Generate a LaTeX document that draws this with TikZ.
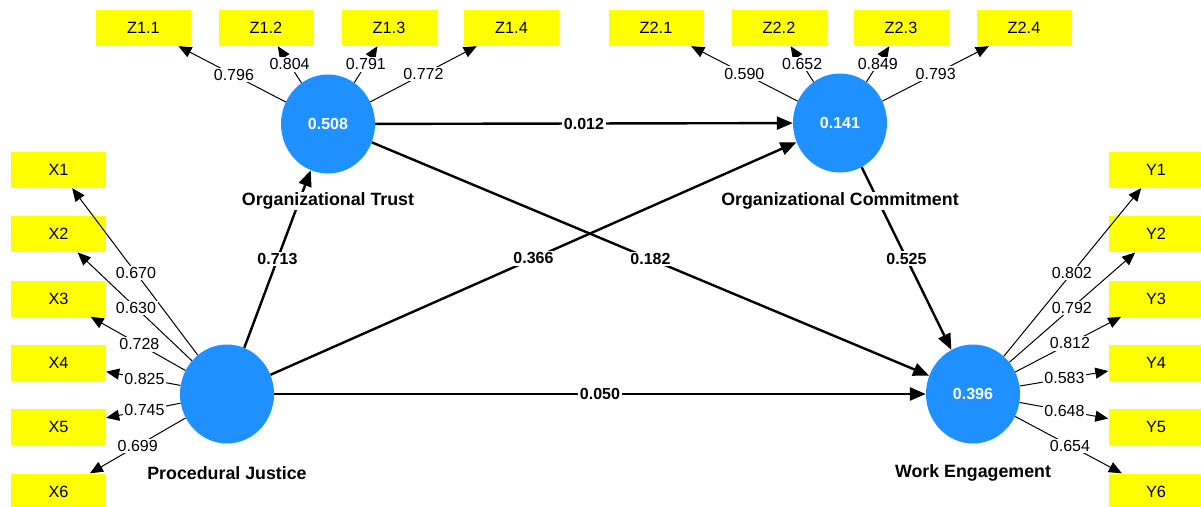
\documentclass[tikz,border=0pt]{standalone}
\usepackage{fontspec}
\setmainfont{Liberation Sans}
\usetikzlibrary{arrows.meta,shapes.geometric}
\definecolor{lvblue}{RGB}{30,144,255}
\definecolor{mvyellow}{RGB}{255,255,0}
\begin{document}
\begin{tikzpicture}[x=1pt,y=-1pt,
 lv/.style={ellipse,fill=lvblue,minimum width=94pt,minimum height=99pt,inner sep=0pt,text=white,font=\fontsize{16}{18}\selectfont\bfseries},
 mv/.style={rectangle,fill=mvyellow,minimum width=95pt,minimum height=36pt,inner sep=0pt,font=\fontsize{16.3}{18}\selectfont},
 lvname/.style={fill=white,inner sep=1pt,font=\fontsize{17.8}{20}\selectfont\bfseries},
 load/.style={line width=1pt,-{Triangle[length=13pt,width=11pt]}},
 pathc/.style={line width=2.4pt,-{Triangle[length=16pt,width=13pt]}},
 loadlbl/.style={fill=white,inner sep=1.5pt,font=\fontsize{16}{18}\selectfont},
 pathlbl/.style={fill=white,inner sep=1.5pt,font=\fontsize{16}{18}\selectfont\bfseries}]
\clip (0,0) rectangle (1201,506);
\fill[white] (0,0) rectangle (1201,506);

% latent variables
\node[lv] (OT) at (328,124) {0.508};
\node[lv] (OC) at (840,123) {0.141};
\node[lv] (PJ) at (227,394) {};
\node[lv] (WE) at (973,394) {0.396};

% indicators
\node[mv] (Z11) at (143.5,28) {Z1.1};
\node[mv] (Z12) at (266,28) {Z1.2};
\node[mv] (Z13) at (389,28) {Z1.3};
\node[mv] (Z14) at (511.5,28) {Z1.4};
\node[mv] (Z21) at (656,28) {Z2.1};
\node[mv] (Z22) at (779,28) {Z2.2};
\node[mv] (Z23) at (901,28) {Z2.3};
\node[mv] (Z24) at (1024,28) {Z2.4};
\node[mv] (X1) at (58.5,170) {X1};
\node[mv] (X2) at (58.5,234.3) {X2};
\node[mv] (X3) at (58.5,298.6) {X3};
\node[mv] (X4) at (58.5,362.9) {X4};
\node[mv] (X5) at (58.5,427.2) {X5};
\node[mv] (X6) at (58.5,491.5) {X6};
\node[mv] (Y1) at (1156,170) {Y1};
\node[mv] (Y2) at (1156,234.3) {Y2};
\node[mv] (Y3) at (1156,298.6) {Y3};
\node[mv] (Y4) at (1156,362.9) {Y4};
\node[mv] (Y5) at (1156,427.2) {Y5};
\node[mv] (Y6) at (1156,491.5) {Y6};

% loadings: Organizational Trust
\draw[load] (OT) -- (Z11);
\draw[load] (OT) -- (Z12);
\draw[load] (OT) -- (Z13);
\draw[load] (OT) -- (Z14);
\path (OT.center) -- (Z11.center) node[loadlbl,pos=0.51] {0.796};
\path (OT.center) -- (Z12.center) node[loadlbl,pos=0.62] {0.804};
\path (OT.center) -- (Z13.center) node[loadlbl,pos=0.62] {0.791};
\path (OT.center) -- (Z14.center) node[loadlbl,pos=0.52] {0.772};

% loadings: Organizational Commitment
\draw[load] (OC) -- (Z21);
\draw[load] (OC) -- (Z22);
\draw[load] (OC) -- (Z23);
\draw[load] (OC) -- (Z24);
\path (OC.center) -- (Z21.center) node[loadlbl,pos=0.52] {0.590};
\path (OC.center) -- (Z22.center) node[loadlbl,pos=0.62] {0.652};
\path (OC.center) -- (Z23.center) node[loadlbl,pos=0.62] {0.849};
\path (OC.center) -- (Z24.center) node[loadlbl,pos=0.52] {0.793};

% loadings: Procedural Justice
\draw[load] (PJ) -- (X1);
\draw[load] (PJ) -- (X2);
\draw[load] (PJ) -- (X3);
\draw[load] (PJ) -- (X4);
\draw[load] (PJ) -- (X5);
\draw[load] (PJ) -- (X6);
\path (PJ.center) -- (X1.center) node[loadlbl,pos=0.54] {0.670};
\path (PJ.center) -- (X2.center) node[loadlbl,pos=0.54] {0.630};
\path (PJ.center) -- (X3.center) node[loadlbl,pos=0.52] {0.728};
\path (PJ.center) -- (X4.center) node[loadlbl,pos=0.49] {0.825};
\path (PJ.center) -- (X5.center) node[loadlbl,pos=0.49] {0.745};
\path (PJ.center) -- (X6.center) node[loadlbl,pos=0.53] {0.699};

% loadings: Work Engagement
\draw[load] (WE) -- (Y1);
\draw[load] (WE) -- (Y2);
\draw[load] (WE) -- (Y3);
\draw[load] (WE) -- (Y4);
\draw[load] (WE) -- (Y5);
\draw[load] (WE) -- (Y6);
\path (WE.center) -- (Y1.center) node[loadlbl,pos=0.54] {0.802};
\path (WE.center) -- (Y2.center) node[loadlbl,pos=0.54] {0.792};
\path (WE.center) -- (Y3.center) node[loadlbl,pos=0.53] {0.812};
\path (WE.center) -- (Y4.center) node[loadlbl,pos=0.50] {0.583};
\path (WE.center) -- (Y5.center) node[loadlbl,pos=0.50] {0.648};
\path (WE.center) -- (Y6.center) node[loadlbl,pos=0.53] {0.654};

% structural paths
\draw[pathc] (PJ) -- node[pathlbl] {0.713} (OT);
\draw[pathc] (OT) -- node[pathlbl] {0.012} (OC);
\draw[pathc] (OT) -- node[pathlbl] {0.182} (WE);
\draw[pathc] (PJ) -- node[pathlbl] {0.366} (OC);
\draw[pathc] (PJ) -- node[pathlbl] {0.050} (WE);
\draw[pathc] (OC) -- node[pathlbl] {0.525} (WE);

% latent variable names
\node[lvname] (OTn) at (328,201) {Organizational Trust};
\node[lvname] (OCn) at (840,201) {Organizational Commitment};
\node[lvname] (PJn) at (227,473) {Procedural Justice};
\node[lvname] (WEn) at (973,473) {Work Engagement};
\end{tikzpicture}
\end{document}
